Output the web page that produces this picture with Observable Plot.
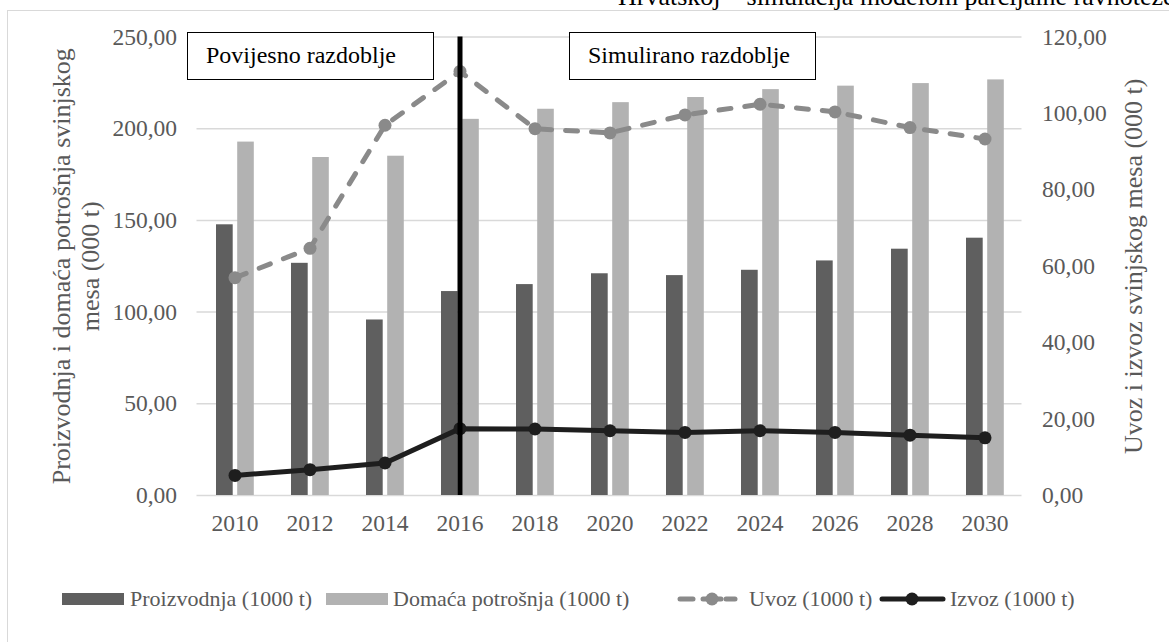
<!DOCTYPE html>
<html><head><meta charset="utf-8">
<script src="https://cdn.jsdelivr.net/npm/d3@7"></script>
<script src="https://cdn.jsdelivr.net/npm/@observablehq/plot@0.6"></script>
<style>
html,body{margin:0;padding:0;background:#fff;}
#wrap{position:relative;width:1169px;height:642px;overflow:hidden;font-family:"Liberation Serif","Times New Roman",serif;}
#chart{position:absolute;left:0;top:0;}
#frame{position:absolute;left:7px;top:10px;width:1300px;height:900px;border:1.5px solid #d9d9d9;box-sizing:border-box;pointer-events:none;}
#title{position:absolute;left:618px;top:-15.8px;font-size:26px;line-height:26px;white-space:nowrap;color:#000;}
.box{position:absolute;top:31.5px;height:48px;width:247px;box-sizing:border-box;border:1.3px solid #000;background:#fff;font-size:24px;line-height:45px;padding-left:18px;color:#000;white-space:nowrap;}
.lg{position:absolute;top:587.6px;font-size:22px;line-height:22px;color:#595959;white-space:nowrap;}
.sw{position:absolute;}
</style>
</head><body>
<div id="wrap">
  <div id="chart"></div>
  <div id="frame"></div>
  <div id="title"></div>
  <div id="boxes"></div>
  <div id="legend"></div>
</div>
<script>
const years = ["2010","2012","2014","2016","2018","2020","2022","2024","2026","2028","2030"];
const proizvodnja = [147.6,126.6,95.7,111.2,115.0,120.9,119.9,122.8,127.9,134.3,140.3];
const potrosnja = [192.7,184.3,185.0,205.1,210.6,214.2,217.0,221.3,223.2,224.6,226.6];
const uvoz = [57.0,64.7,96.9,111.0,96.0,94.9,99.6,102.4,100.4,96.3,93.3];
const izvoz = [5.26,6.75,8.5,17.5,17.4,16.95,16.5,16.95,16.5,15.8,15.1];
const leftTicks = [0,50,100,150,200,250];
const rightTicks = [0,20,40,60,80,100,120];
const dividerYear = "2016";
const titleText = "Hrvatskoj – simulacija modelom parcijalne ravnoteže";
const leftTitle = "Proizvodnja i domaća potrošnja svinjskog\nmesa (000 t)";
const rightTitle = "Uvoz i izvoz svinjskog mesa (000 t)";
const periodLabels = ["Povijesno razdoblje", "Simulirano razdoblje"];
const seriesNames = ["Proizvodnja (1000 t)", "Domaća potrošnja (1000 t)", "Uvoz (1000 t)", "Izvoz (1000 t)"];
const colors = {prod:"#5f5f5f", cons:"#b2b2b2", imp:"#8a8a8a", exp:"#1e1e1e"};

const leftMax = 250, rightMax = 120;
const k = leftMax / rightMax;
const rows = years.map((y,i)=>({year:y, p:proizvodnja[i], d:potrosnja[i], u:uvoz[i], e:izvoz[i]}));
const fmt = v => (Math.round(v*100)/100).toFixed(2).replace(".", ",");

const chart = Plot.plot({
  width: 1169, height: 642,
  marginLeft: 196.5, marginRight: 147.5, marginTop: 36.5, marginBottom: 147,
  style: {fontFamily: "Liberation Serif, Times New Roman, serif", fontSize: "23.5px", color: "#595959", background: "transparent", overflow: "visible"},
  x: {type: "band", domain: years, padding: 0},
  y: {domain: [0, leftMax]},
  marks: [
    Plot.gridY(leftTicks, {stroke: "#d9d9d9", strokeOpacity: 1, strokeWidth: 1.5}),
    Plot.barY(rows, {x: "year", y: "p", fill: colors.prod, insetLeft: 19, insetRight: 39.3}),
    Plot.barY(rows, {x: "year", y: "d", fill: colors.cons, insetLeft: 40.2, insetRight: 18.2}),
    Plot.line(rows, {x: "year", y: d => d.u*k, stroke: colors.imp, strokeWidth: 5, strokeDasharray: "12,14", strokeLinecap: "round"}),
    Plot.dot(rows, {x: "year", y: d => d.u*k, r: 6.5, fill: colors.imp, stroke: null}),
    Plot.line(rows, {x: "year", y: d => d.e*k, stroke: colors.exp, strokeWidth: 5}),
    Plot.dot(rows, {x: "year", y: d => d.e*k, r: 6.5, fill: colors.exp, stroke: null}),
    Plot.ruleX([dividerYear], {y1: 0, y2: leftMax, stroke: "#000", strokeWidth: 5}),
    Plot.axisY(leftTicks, {anchor: "left", tickSize: 0, tickPadding: 20, tickFormat: fmt, label: null}),
    Plot.axisY(rightTicks.map(t => t*k), {anchor: "right", tickSize: 0, tickPadding: 20, tickFormat: v => fmt(v/k), label: null}),
    Plot.axisX({tickSize: 0, tickPadding: 19, label: null}),
    Plot.text([leftTitle], {text: d => d, frameAnchor: "left", dx: -121.5, rotate: -90, fontSize: 26, lineHeight: 1.12, textAnchor: "middle", lineAnchor: "middle", fill: "#595959"}),
    Plot.text([rightTitle], {text: d => d, frameAnchor: "right", dx: 112, rotate: -90, fontSize: 26, textAnchor: "middle", lineAnchor: "middle", fill: "#595959"})
  ]
});
document.getElementById("chart").appendChild(chart);
document.getElementById("title").textContent = titleText;

// period boxes
const boxes = document.getElementById("boxes");
[187, 569].forEach((x, i) => {
  const b = document.createElement("div");
  b.className = "box"; b.style.left = x + "px"; b.textContent = periodLabels[i];
  boxes.appendChild(b);
});

// legend
const legend = document.getElementById("legend");
const ns = "http://www.w3.org/2000/svg";
function addText(x, t){ const d = document.createElement("div"); d.className="lg"; d.style.left = x+"px"; d.textContent = t; legend.appendChild(d); }
function addSvg(x, w, build){
  const s = document.createElementNS(ns, "svg");
  s.setAttribute("width", w); s.setAttribute("height", 20);
  s.setAttribute("class", "sw"); s.style.left = x+"px"; s.style.top = "588.7px";
  build(s); legend.appendChild(s);
}
function el(s, tag, attrs){ const e = document.createElementNS(ns, tag); for (const a in attrs) e.setAttribute(a, attrs[a]); s.appendChild(e); }
addSvg(62, 62, s => el(s, "rect", {x:0, y:4, width:62, height:12, fill: colors.prod}));
addText(130, seriesNames[0]);
addSvg(326, 62, s => el(s, "rect", {x:0, y:4, width:62, height:12, fill: colors.cons}));
addText(393, seriesNames[1]);
addSvg(677, 62, s => {
  el(s, "line", {x1:3, x2:16, y1:10, y2:10, stroke: colors.imp, "stroke-width":5, "stroke-linecap":"round"});
  el(s, "line", {x1:26, x2:44, y1:10, y2:10, stroke: colors.imp, "stroke-width":5, "stroke-linecap":"round"});
  el(s, "circle", {cx:35, cy:10, r:6.5, fill: colors.imp});
  el(s, "line", {x1:49, x2:58, y1:10, y2:10, stroke: colors.imp, "stroke-width":5, "stroke-linecap":"round"});
});
addText(749, seriesNames[2]);
addSvg(879, 68, s => {
  el(s, "line", {x1:3, x2:64, y1:10, y2:10, stroke: colors.exp, "stroke-width":5, "stroke-linecap":"round"});
  el(s, "circle", {cx:33, cy:10, r:6.5, fill: colors.exp});
});
addText(950, seriesNames[3]);
</script>
</body></html>
